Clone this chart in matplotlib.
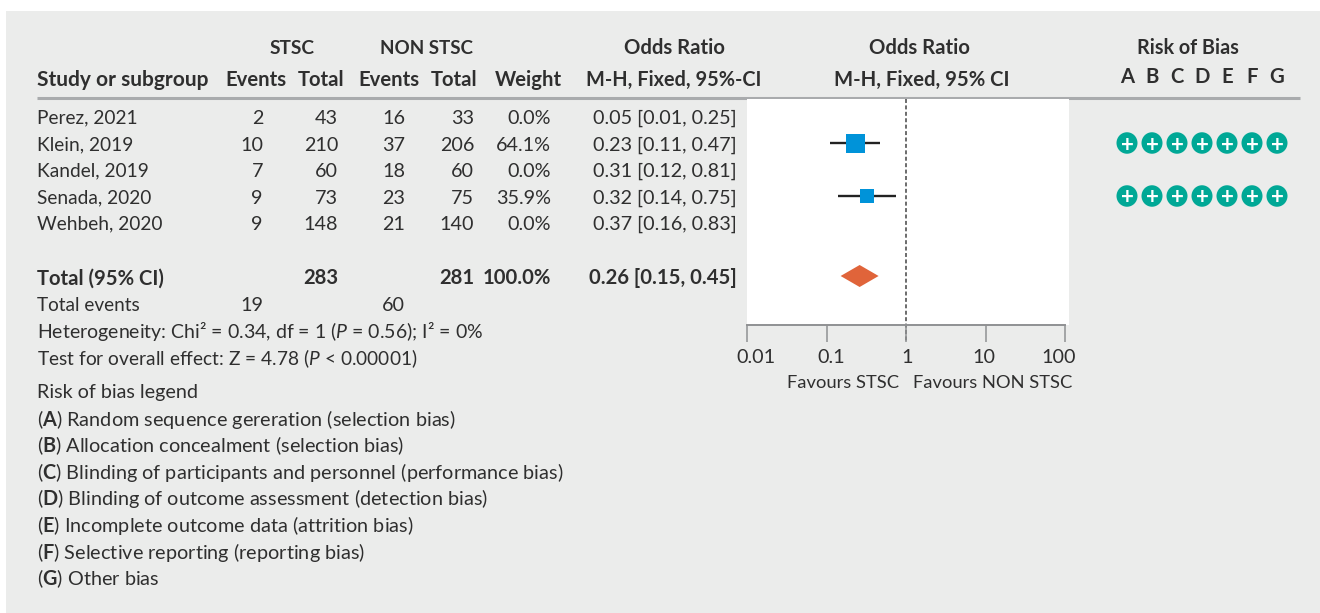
import numpy as np
import matplotlib
matplotlib.use('Agg')
import matplotlib.pyplot as plt
from matplotlib.patches import Ellipse, Polygon, Rectangle
from matplotlib.transforms import ScaledTranslation

# data
studies = ['Perez, 2021', 'Klein, 2019', 'Kandel, 2019', 'Senada, 2020', 'Wehbeh, 2020']
stsc_events = [2, 10, 7, 9, 9]
stsc_total = [43, 210, 60, 73, 148]
non_events = [16, 37, 18, 23, 21]
non_total = [33, 206, 60, 75, 140]
weights = [0.0, 64.1, 0.0, 35.9, 0.0]
odds = [0.05, 0.23, 0.31, 0.32, 0.37]
ci_low = [0.01, 0.11, 0.12, 0.14, 0.16]
ci_high = [0.25, 0.47, 0.81, 0.75, 0.83]
total_or = 0.26
total_low = 0.15
total_high = 0.45
bias_cols = ['A', 'B', 'C', 'D', 'E', 'F', 'G']
bias_ratings = [None, '+++++++', None, '+++++++', None]
axis_ticks = [0.01, 0.1, 1, 10, 100]
axis_labels = ['0.01', '0.1', '1', '10', '100']
legend_lines = ['Random sequence gereration (selection bias)',
                'Allocation concealment (selection bias)',
                'Blinding of participants and personnel (performance bias)',
                'Blinding of outcome assessment (detection bias)',
                'Incomplete outcome data (attrition bias)',
                'Selective reporting (reporting bias)',
                'Other bias']

W, H = 1320, 613
FONT = 'Lato'
plt.rcParams['font.family'] = [FONT, 'DejaVu Sans']
plt.rcParams['mathtext.fontset'] = 'custom'
plt.rcParams['mathtext.rm'] = FONT
plt.rcParams['mathtext.it'] = FONT + ':italic'
plt.rcParams['mathtext.bf'] = FONT + ':bold'

FS = 14.2
FS_BOLD = 14.6
TXT = '#2f2f2f'
GREY = '#a9abad'

fig = plt.figure(figsize=(W / 100, H / 100), dpi=100, facecolor='white')

# whole figure in pixel coordinates, y pointing down
bg = fig.add_axes([0, 0, 1, 1])
bg.set_xlim(0, W)
bg.set_ylim(H, 0)
bg.axis('off')
bg.add_patch(Rectangle((6, 11), W - 6, H - 11, facecolor='#ebeceb', edgecolor='none'))


def put(x, y, s, ha='left', bold=False, fs=None):
    if fs is None:
        fs = FS_BOLD if bold else FS
    bg.text(x, y + 1.2, s, ha=ha, va='center', fontsize=fs, color=TXT,
            fontweight='bold' if bold else 'normal')


# header
put(292.5, 47, 'STSC', 'center', True, 13.8)
put(426.5, 47, 'NON STSC', 'center', True, 13.5)
put(674, 47, 'Odds Ratio', 'center', True)
put(919, 47, 'Odds Ratio', 'center', True)
put(1188, 47, 'Risk of Bias', 'center', True, 14.2)
put(37, 79, 'Study or subgroup', 'left', True, 15)
put(255.5, 79, 'Events', 'center', True)
put(321, 79, 'Total', 'center', True)
put(388.5, 79, 'Events', 'center', True)
put(454.5, 79, 'Total', 'center', True)
put(528.5, 79, 'Weight', 'center', True)
put(674, 79, 'M-H, Fixed, 95%-CI', 'center', True, 14.3)
put(922, 79, 'M-H, Fixed, 95% CI', 'center', True)
bias_x = [1127 + 25 * i for i in range(len(bias_cols))]
for x, c in zip(bias_x, bias_cols):
    put(x, 76, c, 'center', True)
bg.plot([37, 1300], [98, 98], color=GREY, lw=2.2, solid_capstyle='butt')

# study rows
row_y = [117, 144, 170, 197, 223]
for i, y in enumerate(row_y):
    put(37, y, studies[i], fs=13.8)
    put(263, y, str(stsc_events[i]), 'right')
    put(338, y, str(stsc_total[i]), 'right')
    put(405, y, str(non_events[i]), 'right')
    put(474, y, str(non_total[i]), 'right')
    put(551, y, '%.1f%%' % weights[i], 'right')
    put(737, y, '%.2f [%.2f, %.2f]' % (odds[i], ci_low[i], ci_high[i]), 'right')

# totals
put(37, 277, 'Total (95% CI)', 'left', True)
put(338, 277, str(sum(w for w, k in zip(stsc_total, weights) if k > 0)), 'right', True)
put(474, 277, str(sum(w for w, k in zip(non_total, weights) if k > 0)), 'right', True)
put(551, 277, '100.0%', 'right', True)
put(737, 277, '%.2f [%.2f, %.2f]' % (total_or, total_low, total_high), 'right', True)
put(37, 304, 'Total events', fs=13.7)
put(263, 304, str(sum(e for e, k in zip(stsc_events, weights) if k > 0)), 'right')
put(405, 304, str(sum(e for e, k in zip(non_events, weights) if k > 0)), 'right')
put(37, 330, 'Heterogeneity: Chi² = 0.34, df = 1 ($\\mathit{P}$ = 0.56); I² = 0%', fs=14)
put(37, 357, 'Test for overall effect: Z = 4.78 ($\\mathit{P}$ < 0.00001)', fs=13.8)

# risk of bias legend
put(37, 391, 'Risk of bias legend')
for i, line in enumerate(legend_lines):
    put(37, 418 + i * 26.6, '($\\mathbf{%s}$) %s' % (bias_cols[i], line), fs=14.3)

# risk of bias dots
for y, ratings in zip(row_y, bias_ratings):
    if ratings is None:
        continue
    for x, r in zip(bias_x, ratings):
        bg.add_patch(Ellipse((x, y - 1), 21, 21.5, facecolor='#00a896', edgecolor='none'))
        bg.text(x, y - 1, r, ha='center', va='center_baseline', color='white',
                fontsize=16, fontweight='bold')

# forest plot, log x axis, y stays in figure pixels
left, right, top, bottom = 747, 1069, 99, 325
decade = 79.7
ax = fig.add_axes([left / W, 1 - bottom / H, (right - left) / W, (bottom - top) / H])
ax.set_xscale('log')
ax.set_xlim(10 ** ((left - 906) / decade), 10 ** ((right - 906) / decade))
ax.set_ylim(bottom, top)
ax.set_facecolor('white')
for s in ['top', 'left', 'right']:
    ax.spines[s].set_visible(False)
ax.spines['bottom'].set_color('#8f9193')
ax.spines['bottom'].set_linewidth(1.4)
ax.spines['bottom'].set_bounds(axis_ticks[0], axis_ticks[-1])
ax.set_yticks([])
ax.set_xticks(axis_ticks)
ax.set_xticklabels(axis_labels, fontsize=FS, color=TXT)
ax.minorticks_off()
ax.tick_params(axis='x', length=12.5, width=1.1, color='#8f9193', pad=4.5)
# labels sit inward from their ticks in the original
label_shift = [9, 5, 1, -2, -7]
for lab, dx in zip(ax.get_xticklabels(), label_shift):
    lab.set_transform(lab.get_transform() + ScaledTranslation(dx / 100, 0, fig.dpi_scale_trans))
ax.plot([1, 1], [top, 342], color='#444444', lw=1.1, dashes=(2.6, 1.6), clip_on=False, zorder=1)

for i, y in enumerate(row_y):
    if weights[i] <= 0:
        continue
    ax.plot([ci_low[i], ci_high[i]], [y - 0.8, y - 0.8], color='#222222', lw=1.7, solid_capstyle='butt', zorder=2)
    size = 19 if weights[i] > 50 else 14.5
    ax.plot([odds[i]], [y - 0.8], marker='s', ms=size * 0.72, color='#0093d9', mew=0, zorder=3)

ax.add_patch(Polygon([(total_low, 276), (total_or, 265), (total_high, 276), (total_or, 287)],
                     closed=True, facecolor='#e0643a', edgecolor='none', zorder=3))

put(843, 382, 'Favours STSC', 'center', fs=13.2)
put(992.5, 382, 'Favours NON STSC', 'center', fs=13.2)

fig.savefig('out.png', dpi=100, facecolor='white')
